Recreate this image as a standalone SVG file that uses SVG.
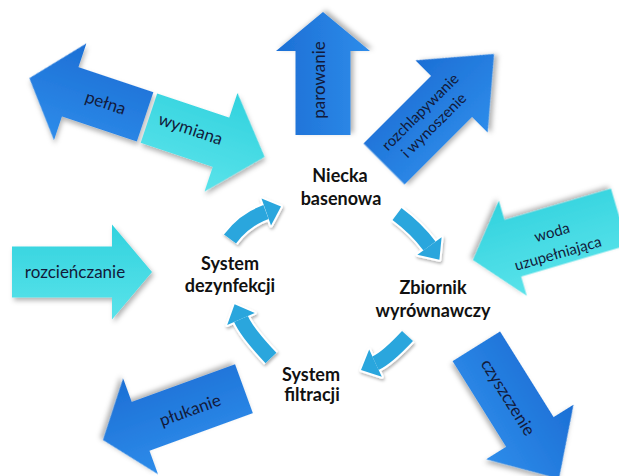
<svg xmlns="http://www.w3.org/2000/svg" width="619" height="476" viewBox="0 0 619 476">
<defs>
  <linearGradient id="gBlue" x1="0" y1="0" x2="0" y2="1">
    <stop offset="0" stop-color="#1c6fd5"/>
    <stop offset="1" stop-color="#2e8cea"/>
  </linearGradient>
  <linearGradient id="gBlueR" x1="0" y1="1" x2="0" y2="0">
    <stop offset="0" stop-color="#1c6fd5"/>
    <stop offset="1" stop-color="#2e8cea"/>
  </linearGradient>
  <linearGradient id="gCyan" x1="0" y1="0" x2="0" y2="1">
    <stop offset="0" stop-color="#31d2de"/>
    <stop offset="1" stop-color="#5ae3ea"/>
  </linearGradient>
  <linearGradient id="gCyanR" x1="0" y1="1" x2="0" y2="0">
    <stop offset="0" stop-color="#31d2de"/>
    <stop offset="1" stop-color="#5ae3ea"/>
  </linearGradient>
  <filter id="sh" x="-20%" y="-20%" width="140%" height="140%">
    <feDropShadow dx="2" dy="3" stdDeviation="2.5" flood-color="#000" flood-opacity="0.3"/>
  </filter>
  <filter id="sh2" x="-30%" y="-30%" width="160%" height="160%">
    <feDropShadow dx="1" dy="2" stdDeviation="1.5" flood-color="#000" flood-opacity="0.3"/>
  </filter>
</defs>
<style>
  .lbl{font-family:Lato,"Liberation Sans",sans-serif;font-size:17px;fill:#121a3a;text-anchor:middle}
  .sm{font-size:15px}
  .node{font-family:Lato,"Liberation Sans",sans-serif;font-size:18px;font-weight:bold;fill:#111;text-anchor:middle}
  .blue{fill:url(#gBlue);filter:url(#sh)}
  .blueR{fill:url(#gBlueR);filter:url(#sh)}
  .cyan{fill:url(#gCyan);filter:url(#sh)}
  .cyanR{fill:url(#gCyanR);filter:url(#sh)}
  .band{fill:none;stroke:#2aa6dd;stroke-width:15}
  .bando{fill:none;stroke:#fff;stroke-width:19}
  .head{fill:#2aa6dd}
  .heado{fill:#fff;stroke:#fff;stroke-width:4;stroke-linejoin:round}
  .cyc{filter:url(#sh2)}
</style>
<rect width="619" height="476" fill="#fff"/>

<g id="pelna-wymiana" transform="translate(147,117.5) rotate(18.5)">
  <g id="pelna">
    <polygon class="blue" points="-124,0 -81,-51 -81,-26 -2,-26 -2,26 -81,26 -81,51"/>
    <text class="lbl" x="-44" y="5">pełna</text>
  </g>
  <g id="wymiana">
    <polygon class="cyan" points="124,0 78,-52 78,-26 2,-26 2,26 78,26 78,52"/>
    <text class="lbl" x="45" y="3">wymiana</text>
  </g>
</g>

<g id="parowanie" transform="translate(323,12) rotate(-90)">
  <polygon class="blue" points="0,0 -39,-47 -39,-27.5 -123,-27.5 -123,27.5 -39,27.5 -39,47"/>
  <text class="lbl" x="-68" y="2">parowanie</text>
</g>

<g id="rozchlapywanie" transform="translate(494,54) rotate(-45)">
  <polygon class="blue" points="0,0 -60,-51 -60,-29 -155.5,-29 -155.5,29 -60,29 -60,51"/>
  <text class="lbl sm" x="-93" y="-6">rozchlapywanie</text>
  <text class="lbl sm" x="-93" y="13">i wynoszenie</text>
</g>

<g id="woda">
  <polygon class="cyanR" transform="translate(473,260) rotate(163.6)" points="0,0 -41.5,-49.5 -41.5,-29.5 -152.5,-29.5 -152.5,29.5 -41.5,29.5 -41.5,49.5"/>
  <g transform="translate(555,243) rotate(-16)">
    <text class="lbl sm" x="0" y="-6">woda</text>
    <text class="lbl sm" x="0" y="16">uzupełniająca</text>
  </g>
</g>

<g id="rozcienczanie" transform="translate(152,272)">
  <polygon class="cyan" points="0,0 -40,-47.5 -40,-25.5 -140,-25.5 -140,25.5 -40,25.5 -40,47.5"/>
  <text class="lbl" x="-77" y="6">rozcieńczanie</text>
</g>

<g id="plukanie">
  <polygon class="blueR" transform="translate(103,440) rotate(160)" points="0,0 -40,-51 -40,-26 -150,-26 -150,26 -40,26 -40,51"/>
  <text class="lbl" transform="translate(190,410) rotate(-20)" x="0" y="6">płukanie</text>
</g>

<g id="czyszczenie" transform="translate(559,478.6) rotate(58)">
  <polygon class="blue" points="0,0 -55,-51.5 -55,-28 -156,-28 -156,28 -55,28 -55,51.5"/>
  <text class="lbl" x="-96" y="6">czyszczenie</text>
</g>

<g id="niecka">
  <text class="node" x="340" y="182">Niecka</text>
  <text class="node" x="341" y="205">basenowa</text>
</g>
<g id="dezynfekcja">
  <text class="node" x="230" y="270">System</text>
  <text class="node" x="230" y="292">dezynfekcji</text>
</g>
<g id="zbiornik">
  <text class="node" x="433" y="294">Zbiornik</text>
  <text class="node" x="433" y="317">wyrównawczy</text>
</g>
<g id="filtracja">
  <text class="node" x="311" y="381">System</text>
  <text class="node" x="312" y="401">filtracji</text>
</g>

<g id="connectors">
  <g class="cyc">
    <path class="bando" d="M230,239 Q244,220 266,212"/>
    <polygon class="heado" points="281,206.5 261.5,198.5 271,225.5"/>
    <path class="band" d="M230,239 Q244,220 266,212"/>
    <polygon class="head" points="281,206.5 261.5,198.5 271,225.5"/>
  </g>
  <g class="cyc">
    <path class="bando" d="M397,214 Q416.6,228.7 429.5,246"/>
    <polygon class="heado" points="439.4,259.8 441.6,237.3 417.4,254.7"/>
    <path class="band" d="M397,214 Q416.6,228.7 429.5,246"/>
    <polygon class="head" points="439.4,259.8 441.6,237.3 417.4,254.7"/>
  </g>
  <g class="cyc">
    <path class="bando" d="M407.5,336 Q387.2,357.8 375.5,363.2"/>
    <polygon class="heado" points="361,370 381.8,376.8 369.2,349.6"/>
    <path class="band" d="M407.5,336 Q387.2,357.8 375.5,363.2"/>
    <polygon class="head" points="361,370 381.8,376.8 369.2,349.6"/>
  </g>
  <g class="cyc">
    <path class="bando" d="M271,358 Q246.8,332.4 241,319"/>
    <polygon class="heado" points="234.6,304.3 254.8,313 227.2,325"/>
    <path class="band" d="M271,358 Q246.8,332.4 241,319"/>
    <polygon class="head" points="234.6,304.3 254.8,313 227.2,325"/>
  </g>
</g>
</svg>
